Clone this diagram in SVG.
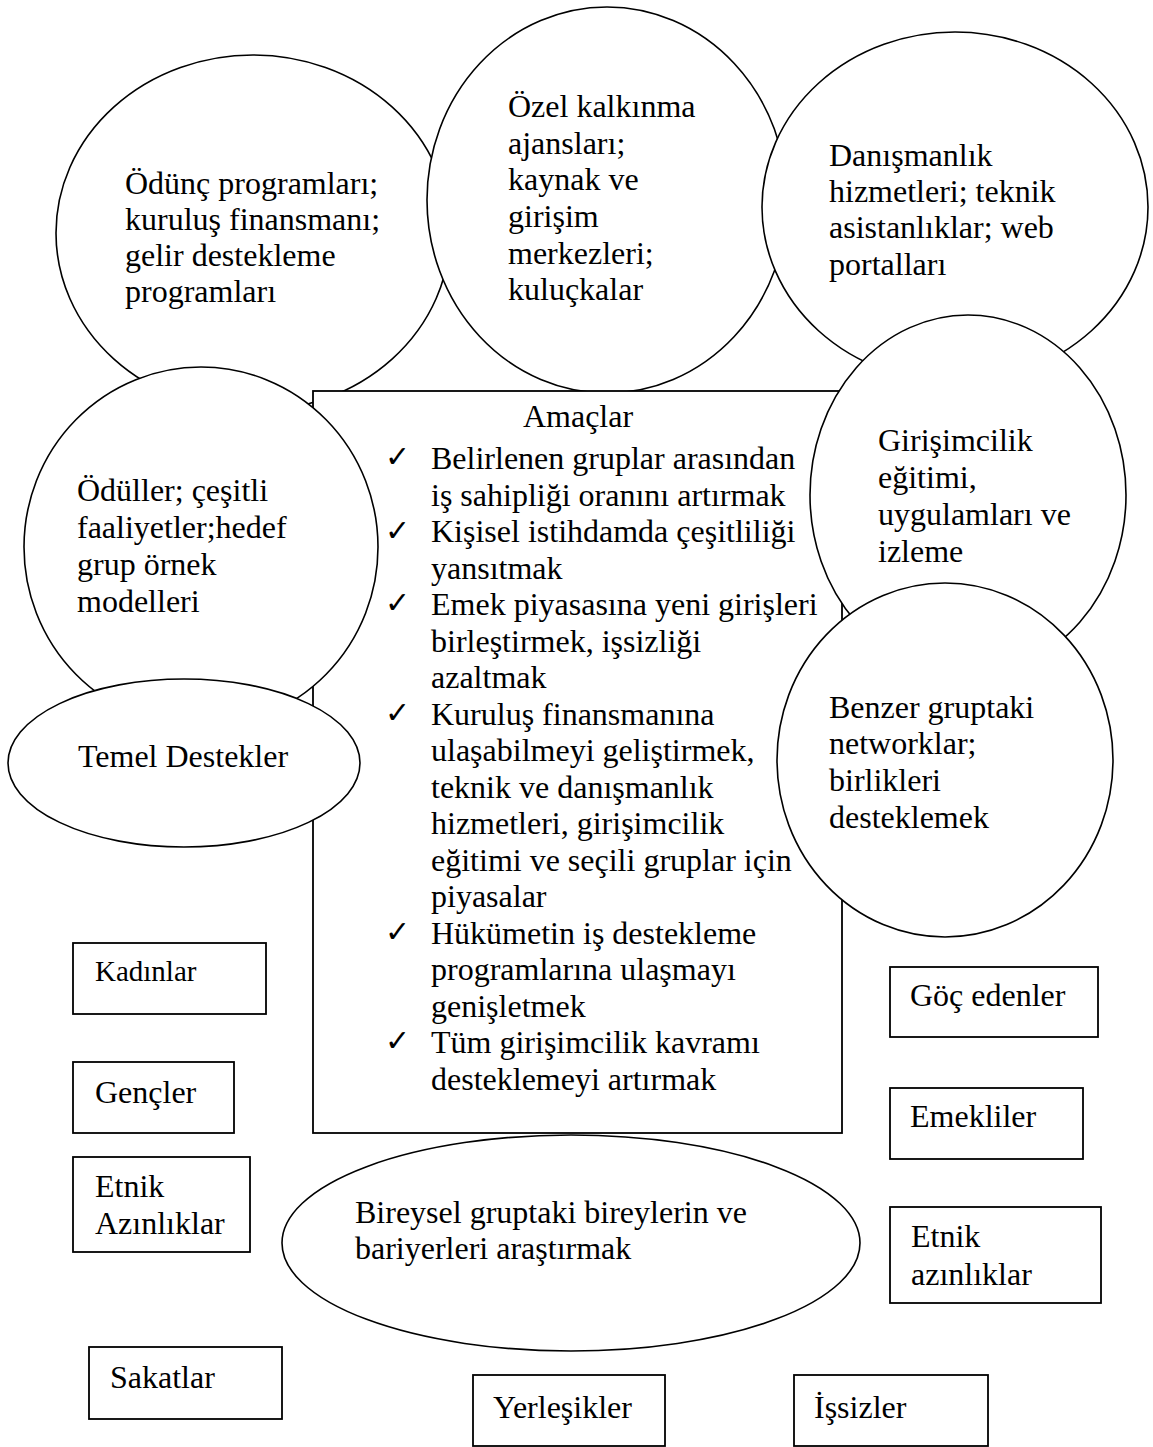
<svg xmlns="http://www.w3.org/2000/svg" width="1153" height="1447" viewBox="0 0 1153 1447">
<style>
.s{fill:#fff;stroke:#000;stroke-width:1.6}
.b{fill:#fff;stroke:#000;stroke-width:1.8}
text{font-family:"Liberation Serif","Times New Roman",serif;font-size:32px;fill:#000}
text.ck{font-family:"DejaVu Sans",sans-serif;font-size:30px}
</style>
<rect width="1153" height="1447" fill="#fff"/>
<g id="connectors"></g>
<g id="n-odunc">
<ellipse class="s" cx="253" cy="233" rx="197" ry="178"/>
<text x="125" y="194">Ödünç programları;</text>
<text x="125" y="230">kuruluş finansmanı;</text>
<text x="125" y="266">gelir destekleme</text>
<text x="125" y="302">programları</text>
</g>
<g id="n-ozel">
<ellipse class="s" cx="607" cy="200" rx="180" ry="193"/>
<text x="508" y="117">Özel kalkınma</text>
<text x="508" y="154">ajansları;</text>
<text x="508" y="190">kaynak ve</text>
<text x="508" y="227">girişim</text>
<text x="508" y="264">merkezleri;</text>
<text x="508" y="300">kuluçkalar</text>
</g>
<g id="n-danisman">
<ellipse class="s" cx="955" cy="207" rx="193" ry="175"/>
<text x="829" y="166">Danışmanlık</text>
<text x="829" y="202">hizmetleri; teknik</text>
<text x="829" y="238">asistanlıklar; web</text>
<text x="829" y="275">portalları</text>
</g>
<g id="n-amaclar">
<rect class="b" x="313" y="391" width="529" height="742"/>
<text x="578" y="427" text-anchor="middle">Amaçlar</text>
<text class="ck" x="385" y="467">✓</text>
<text class="ck" x="385" y="541">✓</text>
<text class="ck" x="385" y="613">✓</text>
<text class="ck" x="385" y="723">✓</text>
<text class="ck" x="385" y="942">✓</text>
<text class="ck" x="385" y="1051">✓</text>
<text x="431" y="469">Belirlenen gruplar arasından</text>
<text x="431" y="506">iş sahipliği oranını artırmak</text>
<text x="431" y="542">Kişisel istihdamda çeşitliliği</text>
<text x="431" y="579">yansıtmak</text>
<text x="431" y="615">Emek piyasasına yeni girişleri</text>
<text x="431" y="652">birleştirmek, işsizliği</text>
<text x="431" y="688">azaltmak</text>
<text x="431" y="725">Kuruluş finansmanına</text>
<text x="431" y="761">ulaşabilmeyi geliştirmek,</text>
<text x="431" y="798">teknik ve danışmanlık</text>
<text x="431" y="834">hizmetleri, girişimcilik</text>
<text x="431" y="871">eğitimi ve seçili gruplar için</text>
<text x="431" y="907">piyasalar</text>
<text x="431" y="944">Hükümetin iş destekleme</text>
<text x="431" y="980">programlarına ulaşmayı</text>
<text x="431" y="1017">genişletmek</text>
<text x="431" y="1053">Tüm girişimcilik kavramı</text>
<text x="431" y="1090">desteklemeyi artırmak</text>
</g>
<g id="n-oduller">
<ellipse class="s" cx="201" cy="547" rx="177" ry="180"/>
<text x="77" y="501">Ödüller; çeşitli</text>
<text x="77" y="538">faaliyetler;hedef</text>
<text x="77" y="575">grup örnek</text>
<text x="77" y="612">modelleri</text>
</g>
<g id="n-girisim">
<ellipse class="s" cx="968" cy="495" rx="158" ry="180"/>
<text x="878" y="451">Girişimcilik</text>
<text x="878" y="488">eğitimi,</text>
<text x="878" y="525">uygulamları ve</text>
<text x="878" y="562">izleme</text>
</g>
<g id="n-benzer">
<ellipse class="s" cx="945" cy="760" rx="168" ry="177"/>
<text x="829" y="718">Benzer gruptaki</text>
<text x="829" y="754">networklar;</text>
<text x="829" y="791">birlikleri</text>
<text x="829" y="828">desteklemek</text>
</g>
<g id="n-temel">
<ellipse class="s" cx="184" cy="763" rx="176" ry="84"/>
<text x="78" y="767">Temel Destekler</text>
</g>
<g id="n-bireysel">
<ellipse class="s" cx="571" cy="1243" rx="289" ry="108"/>
<text x="355" y="1223">Bireysel gruptaki bireylerin ve</text>
<text x="355" y="1259">bariyerleri araştırmak</text>
</g>
<g id="n-kadinlar"><rect class="b" x="73" y="943" width="193" height="71"/><text x="95" y="981" style="font-size:29px">Kadınlar</text></g>
<g id="n-gencler"><rect class="b" x="73" y="1062" width="161" height="71"/><text x="95" y="1103">Gençler</text></g>
<g id="n-etnik1"><rect class="b" x="73" y="1157" width="177" height="95"/><text x="95" y="1197">Etnik</text><text x="95" y="1234">Azınlıklar</text></g>
<g id="n-sakatlar"><rect class="b" x="89" y="1347" width="193" height="72"/><text x="110" y="1388">Sakatlar</text></g>
<g id="n-yerlesik"><rect class="b" x="473" y="1375" width="192" height="71"/><text x="493" y="1418">Yerleşikler</text></g>
<g id="n-issiz"><rect class="b" x="794" y="1375" width="194" height="71"/><text x="814" y="1418">İşsizler</text></g>
<g id="n-goc"><rect class="b" x="890" y="967" width="208" height="70"/><text x="910" y="1006">Göç edenler</text></g>
<g id="n-emekli"><rect class="b" x="890" y="1088" width="193" height="71"/><text x="910" y="1127">Emekliler</text></g>
<g id="n-etnik2"><rect class="b" x="890" y="1207" width="211" height="96"/><text x="911" y="1247">Etnik</text><text x="911" y="1285">azınlıklar</text></g>
</svg>
